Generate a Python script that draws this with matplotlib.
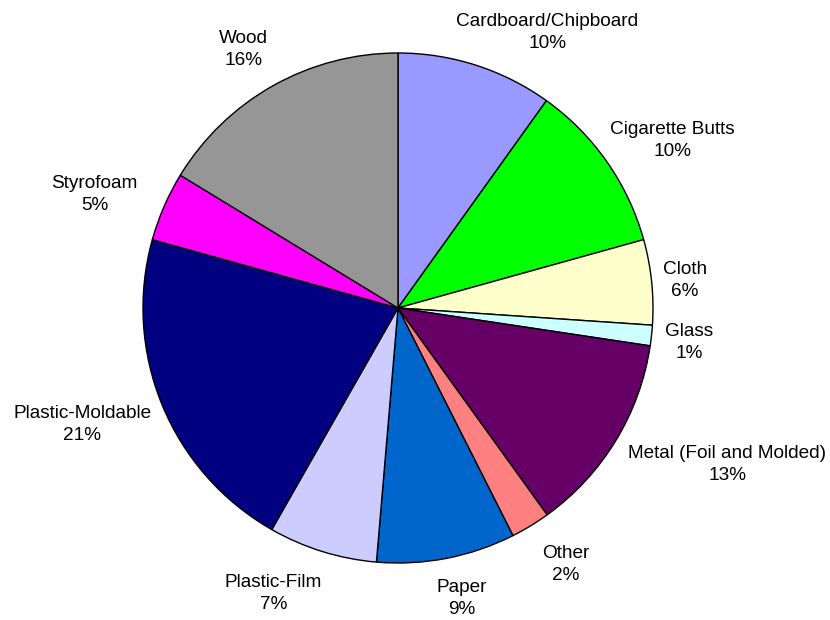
import numpy as np
import matplotlib.pyplot as plt

plt.rcParams['font.family'] = ['Liberation Sans', 'DejaVu Sans']

categories = ['Cardboard/Chipboard', 'Cigarette Butts', 'Cloth', 'Glass',
              'Metal (Foil and Molded)', 'Other', 'Paper', 'Plastic-Film',
              'Plastic-Moldable', 'Styrofoam', 'Wood']
shares = [9.9, 10.8, 5.4, 1.3, 12.7, 2.5, 8.8, 6.9, 21.1, 4.4, 16.3]
pct_labels = ['10%', '10%', '6%', '1%', '13%', '2%', '9%', '7%', '21%', '5%', '16%']
colors = ['#9999FF', '#00FF00', '#FFFFCC', '#CCFFFF', '#660066', '#FF8080',
          '#0066CC', '#CCCCFF', '#000080', '#FF00FF', '#969696']

# label placement (radius as multiple of pie radius, angle nudge in degrees)
label_r = [1.23, 1.26, 1.13, 1.15, 1.43, 1.20, 1.165, 1.22, 1.32, 1.27, 1.18]
label_nudge = [10.6, 3.6, 0.4, 0.6, -5.9, -1.9, -1.5, 6.3, 2.1, -3.0, -1.5]

fig = plt.figure(figsize=(8.3, 6.2), dpi=100)
ax = fig.add_axes([0, 0, 1, 1])

cx, cy, R = 398, 312, 255
ax.pie(shares, colors=colors, startangle=90, counterclock=False,
       center=(cx, cy), radius=R,
       wedgeprops=dict(edgecolor='black', linewidth=1.0))
ax.set_xlim(0, 830)
ax.set_ylim(0, 620)
ax.set_aspect('equal')
ax.axis('off')

total = sum(shares)
cum = np.cumsum([0] + shares[:-1])
for i, name in enumerate(categories):
    mid = (cum[i] + shares[i] / 2) / total * 360 + label_nudge[i]
    a = np.deg2rad(mid)
    x = cx + label_r[i] * R * np.sin(a)
    y = cy + label_r[i] * R * np.cos(a)
    ax.text(x, y, f'{name}\n{pct_labels[i]}', ha='center', va='center',
            fontsize=13.7, linespacing=1.38, color='black')

plt.savefig('out.png', dpi=100)
plt.close()
